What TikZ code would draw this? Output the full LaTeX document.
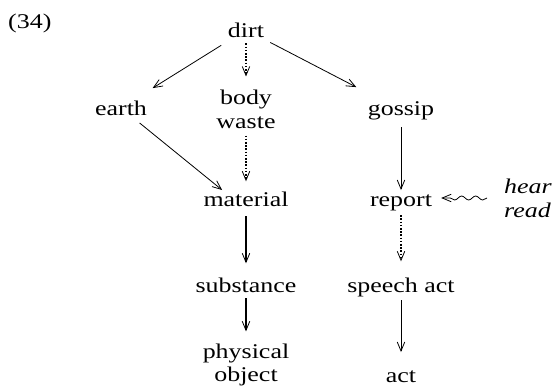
\documentclass[tikz,border=0pt]{standalone}
\usepackage{fontspec}
\setmainfont[FakeStretch=1.24]{Liberation Serif}
\usetikzlibrary{arrows.meta,decorations.pathmorphing,calc}

\tikzset{
  word/.style={inner sep=0pt, font=\fontsize{21}{24}\selectfont},
  twoline/.style={word, align=center},
  tipv/.style={-{Straight Barb[length=9bp,width=7.5bp,line width=0.8bp]}},
  link/.style={tipv, line width=0.8bp},
  strong/.style={tipv, line width=2bp},
  dotlink/.style={tipv, line width=2bp, dash pattern=on 1.6bp off 1.6bp},
  squig/.style={tipv, line width=0.8bp, decorate,
    decoration={snake, amplitude=2bp, segment length=14bp, post length=8bp}}
}

\begin{document}
\begin{tikzpicture}[x=1bp, y=1bp]
  \useasboundingbox (0,0) rectangle (555,389);

  % example number
  \node[word, anchor=base west] (num) at (8,361) {(34)};

  % left branch
  \node[word, anchor=base] (dirt) at (246,352) {dirt};
  \node[word, anchor=base] (earth) at (121,274) {earth};
  \node[twoline] (body) at (246,280) {body\\waste};
  \node[word, anchor=base] (material) at (246,183) {material};
  \node[word, anchor=base] (substance) at (246,97) {substance};
  \node[twoline] (physical) at (246,24) {physical\\object};

  % right branch
  \node[word, anchor=base] (gossip) at (401,274) {gossip};
  \node[word, anchor=base] (report) at (401,183) {report};
  \node[word, anchor=base] (speech) at (401,97) {speech act};
  \node[word, anchor=base] (act) at (401,7) {act};
  \node[word, align=left, font=\fontsize{21}{24}\selectfont\itshape] (hearread) at (528,191) {hear\\read};

  % connectors
  \draw[link, shorten <=15bp, shorten >=23bp] (dirt) -- (earth);
  \draw[dotlink, shorten <=6bp, shorten >=13bp] (dirt) -- (body);
  \draw[link, shorten <=11bp, shorten >=30bp] (dirt) -- (gossip);
  \draw[link, shorten <=12bp, shorten >=14bp] (earth) -- ([xshift=-13bp]material.center);
  \draw[dotlink, shorten <=7bp, shorten >=10bp] (body) -- (material);
  \draw[strong, shorten <=10bp, shorten >=14bp] (material) -- (substance);
  \draw[strong, shorten <=6bp, shorten >=12bp] (substance) -- (physical);
  \draw[link, shorten <=7.5bp, shorten >=4bp] (gossip) -- (report);
  \draw[dotlink, shorten <=4.5bp, shorten >=16bp] (report) -- (speech);
  \draw[link, shorten <=3.5bp, shorten >=18bp] (speech) -- (act);
  \draw[squig] ($(hearread.west)+(-17bp,0)$) -- ($(hearread.west -| report.east)+(9bp,0)$);
\end{tikzpicture}
\end{document}
